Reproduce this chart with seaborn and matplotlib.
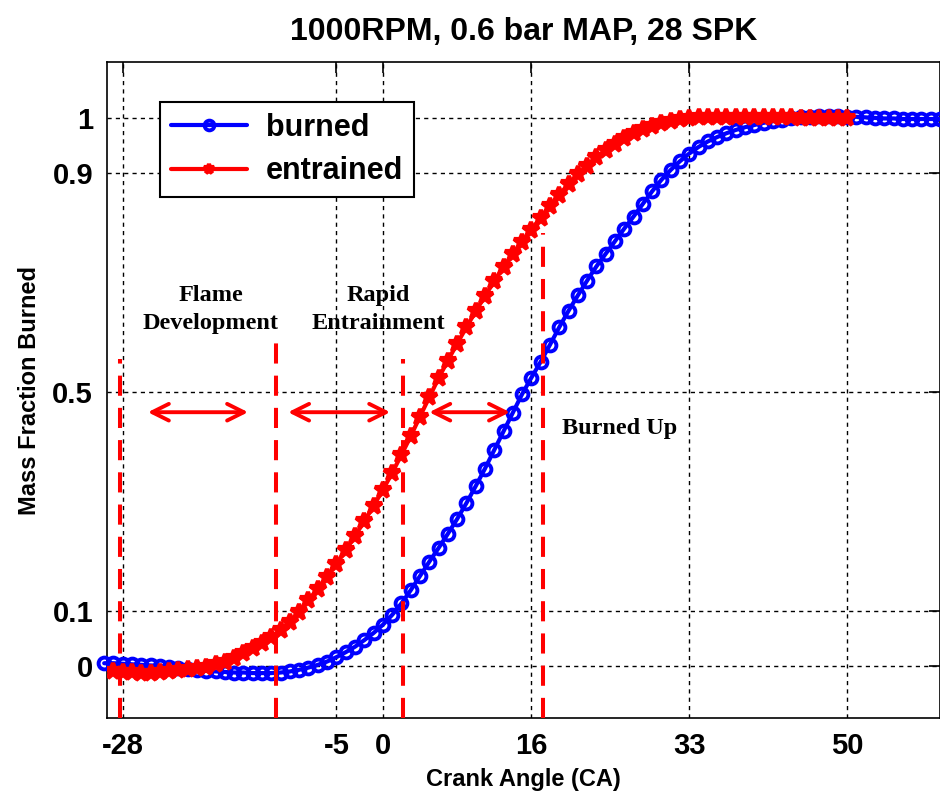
import numpy as np
import pandas as pd
import seaborn as sns
import matplotlib.pyplot as plt

# crank angle samples (deg) and mass fractions
crank_burned = np.arange(-30, 61)
burned = [0.005, 0.005, 0.004, 0.003, 0.002, 0.001, 0.000, -0.002, -0.004, -0.006,
          -0.008, -0.009, -0.010, -0.011, -0.012, -0.012, -0.013, -0.013, -0.013, -0.012,
          -0.010, -0.007, -0.003, 0.002, 0.008, 0.016, 0.025, 0.035, 0.047, 0.060,
          0.075, 0.093, 0.114, 0.138, 0.164, 0.190, 0.215, 0.241, 0.268, 0.297,
          0.328, 0.360, 0.394, 0.428, 0.462, 0.496, 0.526, 0.555, 0.586, 0.618,
          0.648, 0.676, 0.703, 0.729, 0.752, 0.775, 0.798, 0.820, 0.843, 0.866,
          0.887, 0.905, 0.921, 0.935, 0.947, 0.957, 0.965, 0.972, 0.978, 0.983,
          0.987, 0.991, 0.994, 0.997, 0.999, 1.001, 1.002, 1.003, 1.003, 1.003,
          1.002, 1.002, 1.001, 1.000, 0.999, 0.999, 0.998, 0.998, 0.998, 0.998,
          0.998]

crank_entrained = np.arange(-29, 51)
entrained = [-0.010, -0.011, -0.011, -0.012, -0.012, -0.011, -0.010, -0.008, -0.006, -0.004,
             -0.001, 0.003, 0.008, 0.015, 0.023, 0.032, 0.042, 0.053, 0.066, 0.081,
             0.099, 0.120, 0.141, 0.163, 0.186, 0.211, 0.237, 0.264, 0.292, 0.321,
             0.352, 0.385, 0.419, 0.455, 0.490, 0.525, 0.557, 0.588, 0.618, 0.647,
             0.675, 0.702, 0.728, 0.751, 0.773, 0.796, 0.818, 0.839, 0.860, 0.879,
             0.897, 0.913, 0.928, 0.941, 0.953, 0.963, 0.972, 0.980, 0.986, 0.991,
             0.995, 0.998, 1.000, 1.001, 1.001, 1.001, 1.001, 1.001, 1.001, 1.001,
             1.001, 1.001, 1.001, 1.001, 1.000, 1.000, 1.000, 1.000, 1.000, 1.000]

# phase boundaries (dashed red lines) and how high each one reaches
phase_x = [-28.3, -11.5, 2.2, 17.3]
phase_top = [0.56, 0.61, 0.56, 0.79]

# double arrows between the phases
arrow_start = [-25.3, -10.2, 5.0]
arrow_end = [-14.5, 0.8, 13.7]
arrow_y = 0.463

x_ticks = [-28, -5, 0, 16, 33, 50]
y_ticks = [0, 0.1, 0.5, 0.9, 1]
y_ticklabels = ["0", "0.1", "0.5", "0.9", "1"]

df_b = pd.DataFrame({"CA": crank_burned, "MFB": burned})
df_e = pd.DataFrame({"CA": crank_entrained, "MFB": entrained})

sns.set_style("white")
plt.rcParams['font.family'] = ['Liberation Sans', 'DejaVu Sans']
plt.rcParams['font.weight'] = 'bold'
plt.rcParams['axes.unicode_minus'] = False
plt.rcParams['text.color'] = 'black'
plt.rcParams['axes.labelcolor'] = 'black'

fig = plt.figure(figsize=(9.4, 7.97), dpi=100)
ax = fig.add_axes([0.1138, 0.0991, 0.8862, 0.8231])

sns.lineplot(data=df_b, x="CA", y="MFB", ax=ax, color=(0, 0, 1), lw=3,
             marker="o", markersize=8.5, markerfacecolor="none",
             markeredgecolor=(0, 0, 1), markeredgewidth=2.8,
             label="burned", clip_on=False, zorder=3)
sns.lineplot(data=df_e, x="CA", y="MFB", ax=ax, color=(1, 0, 0), lw=3,
             marker="*", markersize=12, markerfacecolor=(1, 0, 0),
             markeredgecolor=(1, 0, 0), markeredgewidth=3,
             label="entrained", zorder=4)

ax.set_xlim(-29.7, 60)
ax.set_ylim(-0.095, 1.102)

for xv, top in zip(phase_x, phase_top):
    ax.plot([xv, xv], [-0.095, top], color=(1, 0, 0), lw=2.9,
            linestyle=(0, (5, 3)), zorder=5)

for x0, x1 in zip(arrow_start, arrow_end):
    ax.annotate("", xy=(x1, arrow_y), xytext=(x0, arrow_y),
                arrowprops=dict(arrowstyle="<->", color=(1, 0, 0), lw=2.8,
                                mutation_scale=30, shrinkA=0, shrinkB=0))

serif = dict(family=['Liberation Serif', 'DejaVu Serif'], fontsize=17.5,
             fontweight='bold', ha='center', va='center', linespacing=1.45)
ax.text(-18.5, 0.65, "Flame\nDevelopment", **serif)
ax.text(-0.5, 0.65, "Rapid\nEntrainment", **serif)
ax.text(25.5, 0.434, "Burned Up", **serif)

ax.set_xticks(x_ticks)
ax.set_yticks(y_ticks)
ax.set_yticklabels(y_ticklabels)
ax.tick_params(axis='both', direction='in', length=8, width=1.2,
               top=True, right=True, labelsize=21, pad=10, colors='black')
for lab in ax.get_xticklabels() + ax.get_yticklabels():
    lab.set_fontweight('bold')

ax.grid(True, color='black', linestyle=(0, (3, 3)), lw=1.0)
for s in ax.spines.values():
    s.set_color('black')
    s.set_linewidth(1.2)

ax.set_xlabel("Crank Angle (CA)", fontsize=17, fontweight='bold', labelpad=6)
ax.set_ylabel("Mass Fraction Burned", fontsize=17, fontweight='bold', labelpad=8)
ax.set_title("1000RPM, 0.6 bar MAP, 28 SPK", fontsize=23, fontweight='bold', pad=16)

leg = ax.legend(loc='upper left', bbox_to_anchor=(0.064, 0.939), fontsize=22,
                frameon=True, fancybox=False, edgecolor='black', framealpha=1,
                handlelength=2.5, numpoints=1, borderpad=0.35, labelspacing=0.45,
                handletextpad=0.6, borderaxespad=0)
leg.get_frame().set_linewidth(1.5)
for t in leg.get_texts():
    t.set_fontweight('bold')
for h in leg.legend_handles:
    h.set_markersize(7)

fig.savefig("out.png", dpi=100)
